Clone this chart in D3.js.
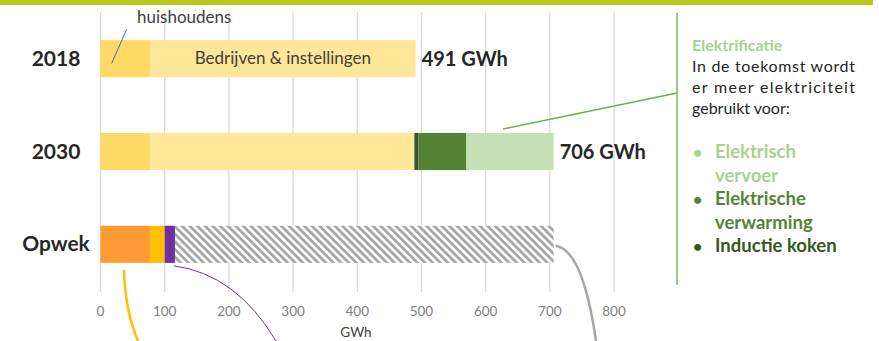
<!DOCTYPE html>
<html>
<head>
<meta charset="utf-8">
<script src="https://cdn.jsdelivr.net/npm/d3@7"></script>
<style>
  body { margin: 0; background: #fff; }
  text { font-family: Lato, "Open Sans", sans-serif; }
</style>
</head>
<body>
<script>
 // chart data (GWh)
 var categories = ["2018", "2030", "Opwek"];
 var keys = ["huishoudens", "bedrijven", "inductie", "verwarming", "vervoer", "opwekA", "opwekB", "opwekC", "tekort"];
 var huishoudens = [77, 77, 0];
 var bedrijven   = [414, 412, 0];
 var inductie    = [0, 6, 0];
 var verwarming  = [0, 75, 0];
 var vervoer     = [0, 136, 0];
 var opwekA      = [0, 0, 77];
 var opwekB      = [0, 0, 23];
 var opwekC      = [0, 0, 16];
 var tekort      = [0, 0, 590];
 var totals      = [491, 706, null];
 var ticks       = [0, 100, 200, 300, 400, 500, 600, 700, 800];

 var colors = {
   huishoudens: "#ffd966", bedrijven: "#ffe699", inductie: "#375623",
   verwarming: "#548235", vervoer: "#c5e0b4",
   opwekA: "#ff9933", opwekB: "#ffc000", opwekC: "#7030a0", tekort: "url(#hatch)"
 };

 var width = 879, height = 341;

 var svg = d3.select("body").append("svg")
   .attr("width", width)
   .attr("height", height);

 // hatch pattern for the gap
 var pat = svg.append("defs").append("pattern")
   .attr("id", "hatch")
   .attr("patternUnits", "userSpaceOnUse")
   .attr("width", 5.4).attr("height", 5.4)
   .attr("patternTransform", "rotate(-45)");
 pat.append("rect").attr("width", 5.4).attr("height", 5.4).attr("fill", "#fff");
 pat.append("rect").attr("width", 2.8).attr("height", 5.4).attr("fill", "#a6a6a6");

 // top band
 svg.append("rect").attr("x", 0).attr("y", 0).attr("width", 873).attr("height", 5).attr("fill", "#b8c91d");

 var x = d3.scaleLinear().domain([0, 800]).range([100.5, 614]);
 var y = d3.scaleBand().domain(categories).range([12, 291]).paddingInner(0.6).paddingOuter(0.303);

 // gridlines
 svg.append("g").selectAll("line").data(ticks).join("line")
   .attr("x1", d => x(d)).attr("x2", d => x(d))
   .attr("y1", 12).attr("y2", 292)
   .attr("stroke", "#d9d9d9").attr("stroke-width", 1.3);

 // tick labels
 svg.append("g").selectAll("text").data(ticks).join("text")
   .attr("x", d => x(d)).attr("y", 316)
   .attr("text-anchor", "middle")
   .attr("font-size", 13.5).attr("fill", "#808080")
   .text(d => d);

 svg.append("text").attr("x", 356).attr("y", 337).attr("text-anchor", "middle")
   .attr("font-size", 13.5).attr("fill", "#404040").text("GWh");

 // stacked bars
 var rows = categories.map(function(c, i) {
   return {cat: c, huishoudens: huishoudens[i], bedrijven: bedrijven[i], inductie: inductie[i],
     verwarming: verwarming[i], vervoer: vervoer[i], opwekA: opwekA[i], opwekB: opwekB[i],
     opwekC: opwekC[i], tekort: tekort[i]};
 });
 var stacked = d3.stack().keys(keys)(rows);

 svg.append("g").selectAll("g").data(stacked).join("g")
   .attr("fill", d => colors[d.key])
   .selectAll("rect").data(d => d.filter(s => s[1] > s[0])).join("rect")
   .attr("x", d => x(d[0]))
   .attr("width", d => x(d[1]) - x(d[0]))
   .attr("y", d => y(d.data.cat))
   .attr("height", y.bandwidth());

 // category labels
 svg.append("g").selectAll("text").data(categories).join("text")
   .attr("x", 56).attr("y", d => y(d) + y.bandwidth() / 2 + 7)
   .attr("text-anchor", "middle")
   .attr("font-size", 21).attr("font-weight", "bold").attr("fill", "#262626")
   .text(d => d);

 // totals
 svg.append("g").selectAll("text").data(totals.filter(t => t != null)).join("text")
   .attr("x", (d, i) => x(d) + 6).attr("y", (d, i) => y(categories[i]) + y.bandwidth() / 2 + 7)
   .attr("font-size", 20).attr("font-weight", "bold").attr("fill", "#262626")
   .text(d => d + " GWh");

 // inside labels
 svg.append("text")
   .attr("x", (x(huishoudens[0]) + x(totals[0])) / 2).attr("y", y("2018") + y.bandwidth() / 2 + 5.5)
   .attr("text-anchor", "middle").attr("font-size", 17).attr("fill", "#404040")
   .text("Bedrijven & instellingen");

 svg.append("text").attr("x", 137).attr("y", 23)
   .attr("font-size", 17).attr("fill", "#404040").text("huishoudens");
 svg.append("line").attr("x1", 126.7).attr("y1", 29.3).attr("x2", 111.7).attr("y2", 63.3)
   .attr("stroke", "#4472c4").attr("stroke-width", 1);

 // annotation lines
 svg.append("line").attr("x1", 503).attr("y1", 129).attr("x2", 677).attr("y2", 93)
   .attr("stroke", "#70ad47").attr("stroke-width", 1.3);
 svg.append("line").attr("x1", 677).attr("y1", 13).attr("x2", 677).attr("y2", 285)
   .attr("stroke", "#70ad47").attr("stroke-width", 1.3);

 var yo = y("Opwek") + y.bandwidth();
 svg.append("path")
   .attr("d", "M124," + (yo + 7) + " Q125,310 138,341")
   .attr("fill", "none").attr("stroke", "#ffc000").attr("stroke-width", 2.5);
 svg.append("path")
   .attr("d", "M" + (x(116) - 1) + "," + (yo + 3) + " Q236,274 276,341")
   .attr("fill", "none").attr("stroke", "#7030a0").attr("stroke-width", 1);
 svg.append("path")
   .attr("d", "M" + (x(706) + 2) + "," + (y("Opwek") + 20) + " Q583,250 596,341")
   .attr("fill", "none").attr("stroke", "#a6a6a6").attr("stroke-width", 2.5);

 // side text
 var side = svg.append("g");
 side.append("text").attr("x", 692).attr("y", 51)
   .attr("font-size", 16).attr("font-weight", "bold").attr("fill", "#a9d18e").text("Elektrificatie");
 side.append("text").attr("x", 692).attr("y", 72)
   .attr("textLength", 163).attr("lengthAdjust", "spacing")
   .attr("font-size", 16).attr("fill", "#262626").text("In de toekomst wordt");
 side.append("text").attr("x", 692).attr("y", 93)
   .attr("textLength", 163).attr("lengthAdjust", "spacing")
   .attr("font-size", 16).attr("fill", "#262626").text("er meer elektriciteit");
 side.append("text").attr("x", 692).attr("y", 114)
   .attr("font-size", 16).attr("fill", "#262626").text("gebruikt voor:");

 var bullets = [
   {lines: ["Elektrisch", "vervoer"], color: "#a9d18e", y: 158},
   {lines: ["Elektrische", "verwarming"], color: "#548235", y: 205},
   {lines: ["Inductie koken"], color: "#375623", y: 252}
 ];
 bullets.forEach(function(b) {
   side.append("text").attr("x", 693).attr("y", b.y)
     .attr("font-size", 16).attr("font-weight", "bold").attr("fill", b.color).text("•");
   b.lines.forEach(function(l, i) {
     side.append("text").attr("x", 715).attr("y", b.y + i * 23.5)
       .attr("font-size", 18.5).attr("font-weight", "bold").attr("fill", b.color).text(l);
   });
 });
</script>
</body>
</html>
